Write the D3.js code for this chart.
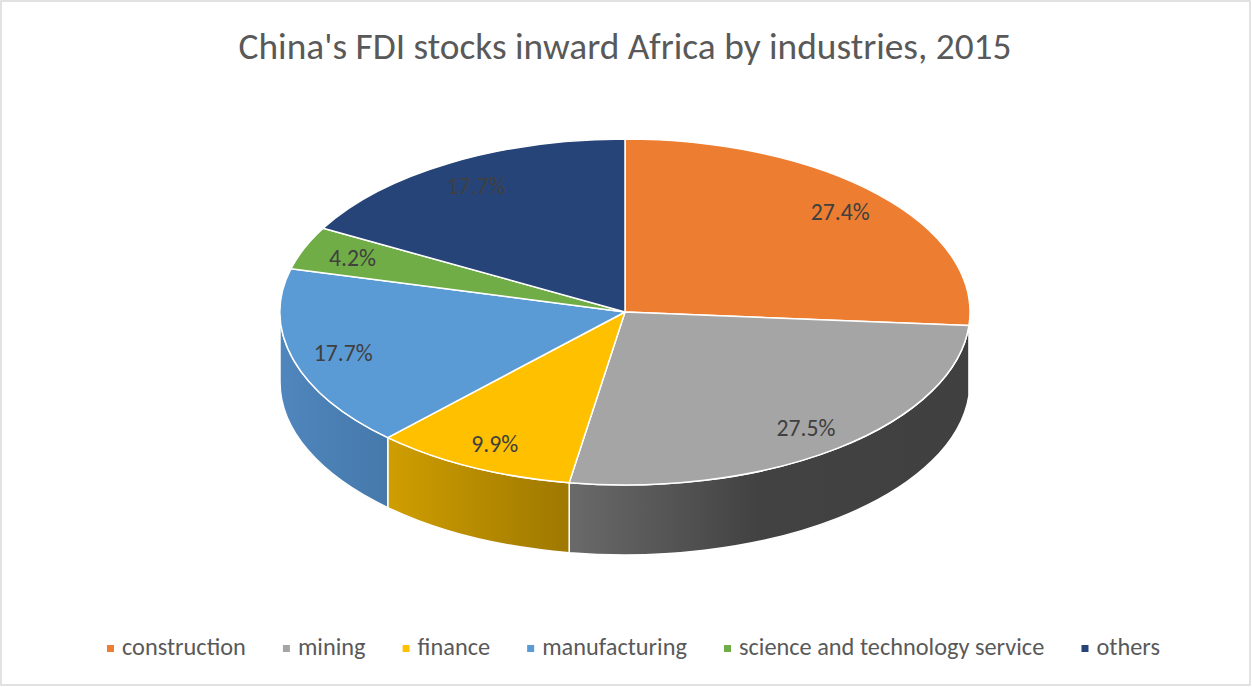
<!DOCTYPE html>
<html>
<head>
<meta charset="utf-8">
<script src="https://cdn.jsdelivr.net/npm/d3@7"></script>
<style>
  body { margin: 0; background: #fff; }
  svg { display: block; font-family: Calibri, Carlito, Lato, "Open Sans", sans-serif; }
</style>
</head>
<body>
<svg width="1252" height="687"></svg>
<script>
var industries = ["construction", "mining", "finance", "manufacturing", "science and technology service", "others"];
var shares = [27.4, 27.5, 9.9, 17.7, 4.2, 17.7];
var labels = ["27.4%", "27.5%", "9.9%", "17.7%", "4.2%", "17.7%"];
var title = "China's FDI stocks inward Africa by industries, 2015";

var topColors = ["#ed7d31", "#a5a5a5", "#ffc000", "#5b9bd5", "#70ad47", "#264478"];
// side shading, left to right
var sideColors = [
    [["0", "#b05a20"], ["1", "#9e4f1a"]],
    [["0", "#6a6a6a"], ["0.47", "#424242"], ["1", "#404040"]],
    [["0", "#cf9e00"], ["1", "#9e7800"]],
    [["0", "#4f86bd"], ["1", "#4679ab"]],
    [["0", "#5a8c38"], ["1", "#4e7a30"]],
    [["0", "#1d3660"], ["1", "#182d50"]]
];

var svg = d3.select("svg"),
    width = +svg.attr("width"),
    height = +svg.attr("height");

var cx = 625, cy = 312, rx = 345, ry = 173, depth = 70;

svg.append("rect")
    .attr("x", 1).attr("y", 1)
    .attr("width", width - 3).attr("height", height - 3)
    .attr("fill", "#fff")
    .attr("stroke", "#d9d9d9")
    .attr("stroke-width", 1.5);

var color = d3.scaleOrdinal().domain(industries).range(topColors);

var pie = d3.pie().sort(null).value(function(d) { return d.v; });
var arcs = pie(industries.map(function(k, i) { return { k: k, v: shares[i], label: labels[i], i: i }; }));

function px(a, r) { return cx + rx * (r == null ? 1 : r) * Math.sin(a); }
function py(a, r) { return cy - ry * (r == null ? 1 : r) * Math.cos(a); }

var defs = svg.append("defs");
arcs.forEach(function(d) {
    var g = defs.append("linearGradient")
        .attr("id", "side" + d.data.i)
        .attr("x1", 0).attr("x2", 1).attr("y1", 0).attr("y2", 0);
    sideColors[d.data.i].forEach(function(s) {
        g.append("stop").attr("offset", s[0]).attr("stop-color", s[1]);
    });
});

// side walls (only the front half is visible)
var walls = svg.append("g").attr("class", "walls");
arcs.forEach(function(d) {
    var s = Math.max(d.startAngle, Math.PI / 2),
        e = Math.min(d.endAngle, 3 * Math.PI / 2);
    if (e <= s) return;
    var p = "M" + px(s) + "," + py(s) +
        "A" + rx + "," + ry + " 0 0 1 " + px(e) + "," + py(e) +
        "L" + px(e) + "," + (py(e) + depth) +
        "A" + rx + "," + ry + " 0 0 0 " + px(s) + "," + (py(s) + depth) + "Z";
    walls.append("path")
        .attr("d", p)
        .attr("fill", "url(#side" + d.data.i + ")")
        .attr("stroke", "#fff")
        .attr("stroke-width", 1.5)
        .attr("stroke-linejoin", "round");
});

// top faces
svg.append("g").attr("class", "slices")
    .selectAll("path")
    .data(arcs)
    .enter().append("path")
    .attr("d", function(d) {
        var large = (d.endAngle - d.startAngle) > Math.PI ? 1 : 0;
        return "M" + cx + "," + cy +
            "L" + px(d.startAngle) + "," + py(d.startAngle) +
            "A" + rx + "," + ry + " 0 " + large + " 1 " + px(d.endAngle) + "," + py(d.endAngle) + "Z";
    })
    .attr("fill", function(d) { return color(d.data.k); })
    .attr("stroke", "#fff")
    .attr("stroke-width", 1.5)
    .attr("stroke-linejoin", "round");

// fit a text element to a target width
function fit(sel, target, base) {
    sel.attr("font-size", base);
    var w = sel.node().getComputedTextLength();
    var fs = base * target / w;
    sel.attr("font-size", fs);
    return fs;
}

// data labels
var lab = svg.append("g").attr("class", "labels")
    .selectAll("text")
    .data(arcs)
    .enter().append("text")
    .attr("x", function(d) { return px((d.startAngle + d.endAngle) / 2, 0.85); })
    .attr("y", function(d) { return py((d.startAngle + d.endAngle) / 2, 0.85); })
    .attr("dy", "0.35em")
    .attr("text-anchor", "middle")
    .attr("fill", "#404040")
    .text(function(d) { return d.data.label; });
var probe = lab.filter(function(d) { return d.data.i === 1; });
var labFs = fit(probe, 59, 20);
lab.attr("font-size", labFs);

// title
var t = svg.append("text")
    .attr("x", 625)
    .attr("y", 59)
    .attr("text-anchor", "middle")
    .attr("fill", "#595959")
    .attr("font-weight", 300)
    .text(title);
fit(t, 773, 32);

// legend
var legend = svg.append("g").attr("class", "legend");
var items = legend.selectAll("g")
    .data(industries)
    .enter().append("g");
items.append("rect")
    .attr("width", 7).attr("height", 7)
    .attr("y", -10)
    .attr("fill", function(d) { return color(d); });
var ltext = items.append("text")
    .attr("x", 15)
    .attr("fill", "#595959")
    .attr("font-size", 20)
    .text(function(d) { return d; });

var widths = [];
ltext.each(function() { widths.push(this.getComputedTextLength()); });
var textTotal = d3.sum(widths);
// target: legend from x=107 to x=1160, gaps of 37 between items
var gap = 37, markerSpace = 15;
var target = 1160 - 107 - gap * (industries.length - 1) - markerSpace * industries.length;
var k = target / textTotal;
ltext.attr("font-size", 20 * k);
var xpos = 107;
items.each(function(d, i) {
    d3.select(this).attr("transform", "translate(" + xpos + ",655)");
    xpos += markerSpace + widths[i] * k + gap;
});
</script>
</body>
</html>
